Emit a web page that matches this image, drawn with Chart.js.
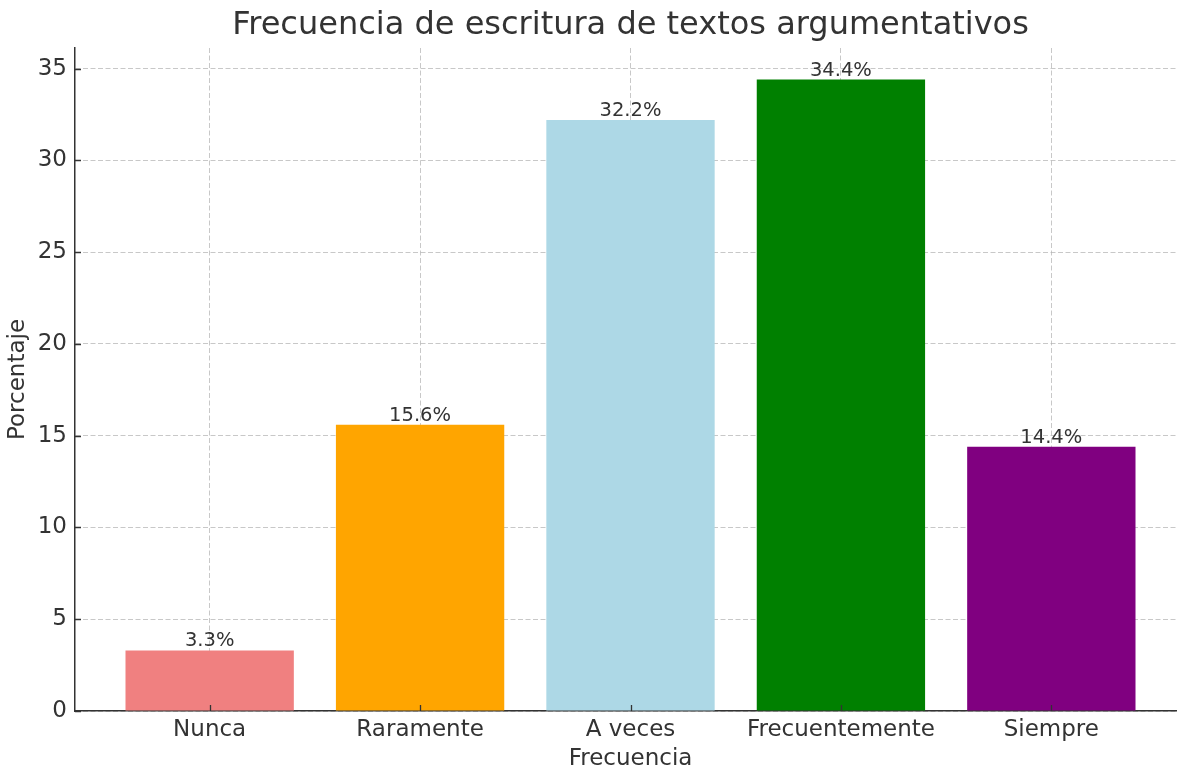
<!DOCTYPE html>
<html><head><meta charset="utf-8">
<script src="https://cdn.jsdelivr.net/npm/chart.js@4.4.1/dist/chart.umd.min.js"></script>
<style>html,body{margin:0;padding:0;overflow:hidden;background:#fff}
#wrap{width:1200px;height:772px;position:relative}
</style></head><body>
<div id="wrap"><canvas id="c"></canvas></div>
<script>
const categories = ['Nunca', 'Raramente', 'A veces', 'Frecuentemente', 'Siempre'];
const percentages = [3.3, 15.6, 32.2, 34.4, 14.4];
const barColors = ['#F08080', '#FFA500', '#ADD8E6', '#008000', '#800080'];
const yTicks = [0, 5, 10, 15, 20, 25, 30, 35];
const xTicks = [0, 1, 2, 3, 4];

const TXT = '#333333';
const GRID = 'rgba(176,176,176,0.7)';
Chart.defaults.font.family = "'DejaVu Sans', sans-serif";
Chart.defaults.color = TXT;

const barLabels = {
  id: 'barLabels',
  afterDraw(chart) {
    const ctx = chart.ctx;
    const meta = chart.getDatasetMeta(0);
    ctx.save();
    ctx.font = "19.5px 'DejaVu Sans', sans-serif";
    ctx.fillStyle = TXT;
    ctx.textAlign = 'center';
    ctx.textBaseline = 'alphabetic';
    meta.data.forEach((bar, i) => {
      ctx.fillText(percentages[i].toFixed(1) + '%', bar.x, bar.y - 4);
    });
    // inward tick marks
    const xs = chart.scales.x, ys = chart.scales.y;
    ctx.strokeStyle = TXT;
    ctx.lineWidth = 1.3;
    ctx.beginPath();
    ys.ticks.forEach(t => {
      const py = Math.round(ys.getPixelForValue(t.value)) + 0.5;
      ctx.moveTo(xs.left, py); ctx.lineTo(xs.left + 6, py);
    });
    xs.ticks.forEach(t => {
      const px = Math.round(xs.getPixelForValue(t.value)) + 0.5;
      ctx.moveTo(px, ys.bottom); ctx.lineTo(px, ys.bottom - 6);
    });
    ctx.stroke();
    ctx.restore();
  }
};

new Chart(document.getElementById('c'), {
  type: 'bar',
  data: {
    datasets: [{
      data: percentages.map((v, i) => ({ x: i, y: v })),
      backgroundColor: barColors,
      borderWidth: 0,
      barPercentage: 0.8,
      categoryPercentage: 1.0
    }]
  },
  options: {
    responsive: true,
    maintainAspectRatio: false,
    devicePixelRatio: 1,
    animation: false,
    layout: { padding: { left: 0, right: 14, top: 0, bottom: 0 } },
    plugins: {
      legend: { display: false },
      tooltip: { enabled: false },
      title: {
        display: true,
        text: 'Frecuencia de escritura de textos argumentativos',
        fullSize: false,
        color: TXT,
        font: { size: 32, weight: 'normal' },
        padding: { top: 6, bottom: 3.6 }
      }
    },
    scales: {
      x: {
        type: 'linear',
        position: 'bottom',
        min: -0.64,
        max: 4.64,
        offset: false,
        z: 1,
        afterBuildTicks(s) { s.ticks = xTicks.map(v => ({ value: v })); },
        afterFit(s) { s.height = 61; },
        grid: { color: GRID, lineWidth: 1, drawTicks: false, offset: false },
        border: { display: true, color: TXT, width: 1.5, dash: [5, 2.5] },
        ticks: {
          color: TXT, font: { size: 23 }, padding: 5, maxRotation: 0, autoSkip: false,
          includeBounds: false,
          callback: v => categories[v]
        },
        title: { display: true, text: 'Frecuencia', color: TXT, font: { size: 23, lineHeight: 1.1 }, padding: { top: 0, bottom: 0 } }
      },
      y: {
        min: 0,
        max: 36.12,
        z: 1,
        afterBuildTicks(s) { s.ticks = yTicks.map(v => ({ value: v })); },
        afterFit(s) { s.width = 75; },
        grid: { color: GRID, lineWidth: 1, drawTicks: false },
        border: { display: true, color: TXT, width: 1.5, dash: [5, 2.5] },
        ticks: { color: TXT, font: { size: 23 }, padding: 8, includeBounds: false },
        title: { display: true, text: 'Porcentaje', color: TXT, font: { size: 23 }, padding: { top: 4, bottom: 0 } }
      }
    }
  },
  plugins: [barLabels]
});
</script>
</body></html>
